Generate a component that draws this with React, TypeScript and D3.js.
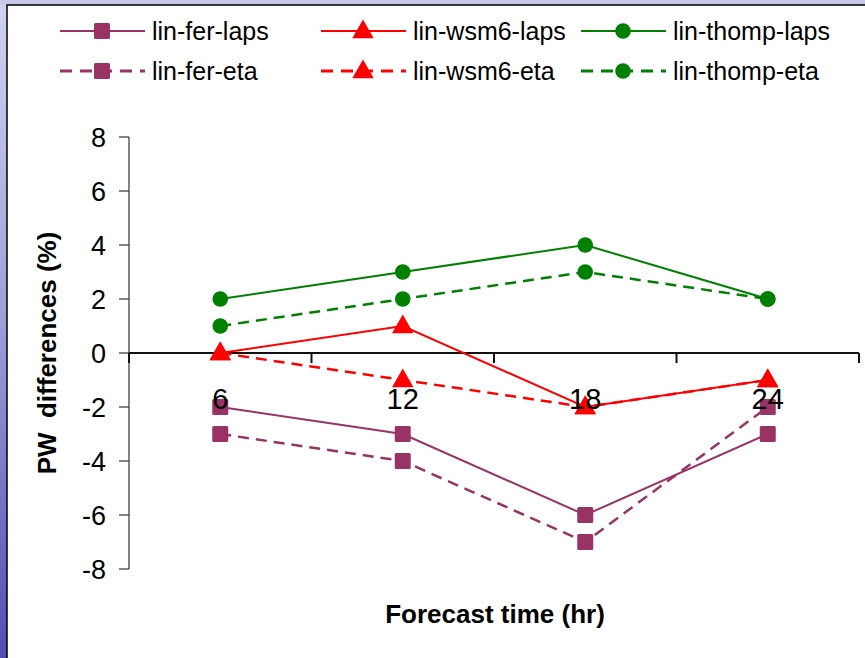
import React from "react";
import * as d3 from "d3";

const categories: number[] = [6, 12, 18, 24];
const yTicks: number[] = [-8, -6, -4, -2, 0, 2, 4, 6, 8];

const linFerLaps: number[] = [-2, -3, -6, -3];
const linFerEta: number[] = [-3, -4, -7, -2];
const linWsm6Laps: number[] = [0, 1, -2, -1];
const linWsm6Eta: number[] = [0, -1, -2, -1];
const linThompLaps: number[] = [2, 3, 4, 2];
const linThompEta: number[] = [1, 2, 3, 2];

type Marker = "square" | "triangle" | "circle";
interface Series {
  name: string;
  values: number[];
  color: string;
  dashed: boolean;
  marker: Marker;
}

const series: Series[] = [
  { name: "lin-fer-laps", values: linFerLaps, color: "#993366", dashed: false, marker: "square" },
  { name: "lin-wsm6-laps", values: linWsm6Laps, color: "#FF0000", dashed: false, marker: "triangle" },
  { name: "lin-thomp-laps", values: linThompLaps, color: "#008000", dashed: false, marker: "circle" },
  { name: "lin-fer-eta", values: linFerEta, color: "#993366", dashed: true, marker: "square" },
  { name: "lin-wsm6-eta", values: linWsm6Eta, color: "#FF0000", dashed: true, marker: "triangle" },
  { name: "lin-thomp-eta", values: linThompEta, color: "#008000", dashed: true, marker: "circle" },
];

const W = 865;
const H = 658;
const FONT = "'Liberation Sans', Arial, sans-serif";

function MarkerShape({ type, x, y, color }: { type: Marker; x: number; y: number; color: string }) {
  if (type === "square") {
    return <rect x={x - 8} y={y - 8} width={16} height={16} rx={1.5} fill={color} />;
  }
  if (type === "circle") {
    return <circle cx={x} cy={y} r={7.8} fill={color} />;
  }
  const tri = d3.symbol().type(d3.symbolTriangle).size(200)();
  return <path d={tri || ""} transform={`translate(${x},${y + 1})`} fill={color} />;
}

export default function App() {
  const x = d3.scaleBand<number>().domain(categories).range([129, 859]).padding(0);
  const y = d3.scaleLinear().domain([-8, 8]).range([569, 137]);
  const cx = (c: number) => (x(c) as number) + x.bandwidth() / 2;
  const line = d3
    .line<number>()
    .x((_, i) => cx(categories[i]))
    .y((v) => y(v));

  const y0 = y(0);
  const bandEdges = categories.map((c) => x(c) as number).concat([859]);

  const legendCols = [60, 321, 581];
  const legendRows = [31, 71];

  return (
    <svg
      width={W}
      height={H}
      style={{ position: "absolute", left: 0, top: 0, display: "block" }}
      fontFamily={FONT}
    >
      <defs>
        <linearGradient id="bg" x1="0" y1="0" x2="0" y2="1">
          <stop offset="0" stopColor="#d2d3f0" />
          <stop offset="0.5" stopColor="#9c9cd8" />
          <stop offset="1" stopColor="#4e4eb4" />
        </linearGradient>
      </defs>
      <rect x={0} y={0} width={W} height={H} fill="url(#bg)" />
      <rect x={0} y={0} width={W} height={5} fill="#c8c8e8" />
      <rect x={7} y={5} width={W + 10} height={H + 10} fill="#ffffff" stroke="#000" strokeWidth={1.5} />

      {/* Legend */}
      {series.map((s, i) => {
        const col = legendCols[i % 3];
        const row = legendRows[Math.floor(i / 3)];
        return (
          <g key={s.name}>
            <line
              x1={col}
              x2={col + 85}
              y1={row}
              y2={row}
              stroke={s.color}
              strokeWidth={s.dashed ? 3 : 2}
              strokeDasharray={s.dashed ? "12,8" : undefined}
            />
            <MarkerShape type={s.marker} x={col + 42} y={row} color={s.color} />
            <text x={col + 92} y={row + 9} fontSize={25} fill="#000">
              {s.name}
            </text>
          </g>
        );
      })}

      {/* Y axis */}
      <line x1={129} x2={129} y1={y(8)} y2={y(-8)} stroke="#333" strokeWidth={1.2} />
      {yTicks.map((t) => (
        <g key={t}>
          <line x1={119} x2={129} y1={y(t)} y2={y(t)} stroke="#333" strokeWidth={1.2} />
          <text x={106} y={y(t) + 9.5} textAnchor="end" fontSize={27} fill="#000">
            {t}
          </text>
        </g>
      ))}
      <text
        transform={`translate(47,${y0}) rotate(-90)`}
        textAnchor="middle"
        dy="0.36em"
        fontSize={26}
        fontWeight="bold"
        fill="#000"
        style={{ whiteSpace: "pre" }}
      >
        {"PW  differences (%)"}
      </text>

      {/* X axis */}
      <line x1={129} x2={859} y1={y0} y2={y0} stroke="#111" strokeWidth={2} />
      {bandEdges.map((e, i) => (
        <line key={i} x1={e} x2={e} y1={y0} y2={y0 + 10} stroke="#111" strokeWidth={2} />
      ))}

      {/* Series */}
      {series.map((s) => (
        <g key={s.name}>
          <path
            d={line(s.values) || ""}
            fill="none"
            stroke={s.color}
            strokeWidth={s.dashed ? 2.5 : 2}
            strokeDasharray={s.dashed ? "11,7" : undefined}
          />
          {s.values.map((v, i) => (
            <MarkerShape key={i} type={s.marker} x={cx(categories[i])} y={y(v)} color={s.color} />
          ))}
        </g>
      ))}

      {/* X tick labels */}
      {categories.map((c) => (
        <text key={c} x={cx(c)} y={409} textAnchor="middle" fontSize={29} fill="#000">
          {c}
        </text>
      ))}
      <text x={495} y={623} textAnchor="middle" fontSize={26} fontWeight="bold" fill="#000">
        Forecast time (hr)
      </text>
    </svg>
  );
}
